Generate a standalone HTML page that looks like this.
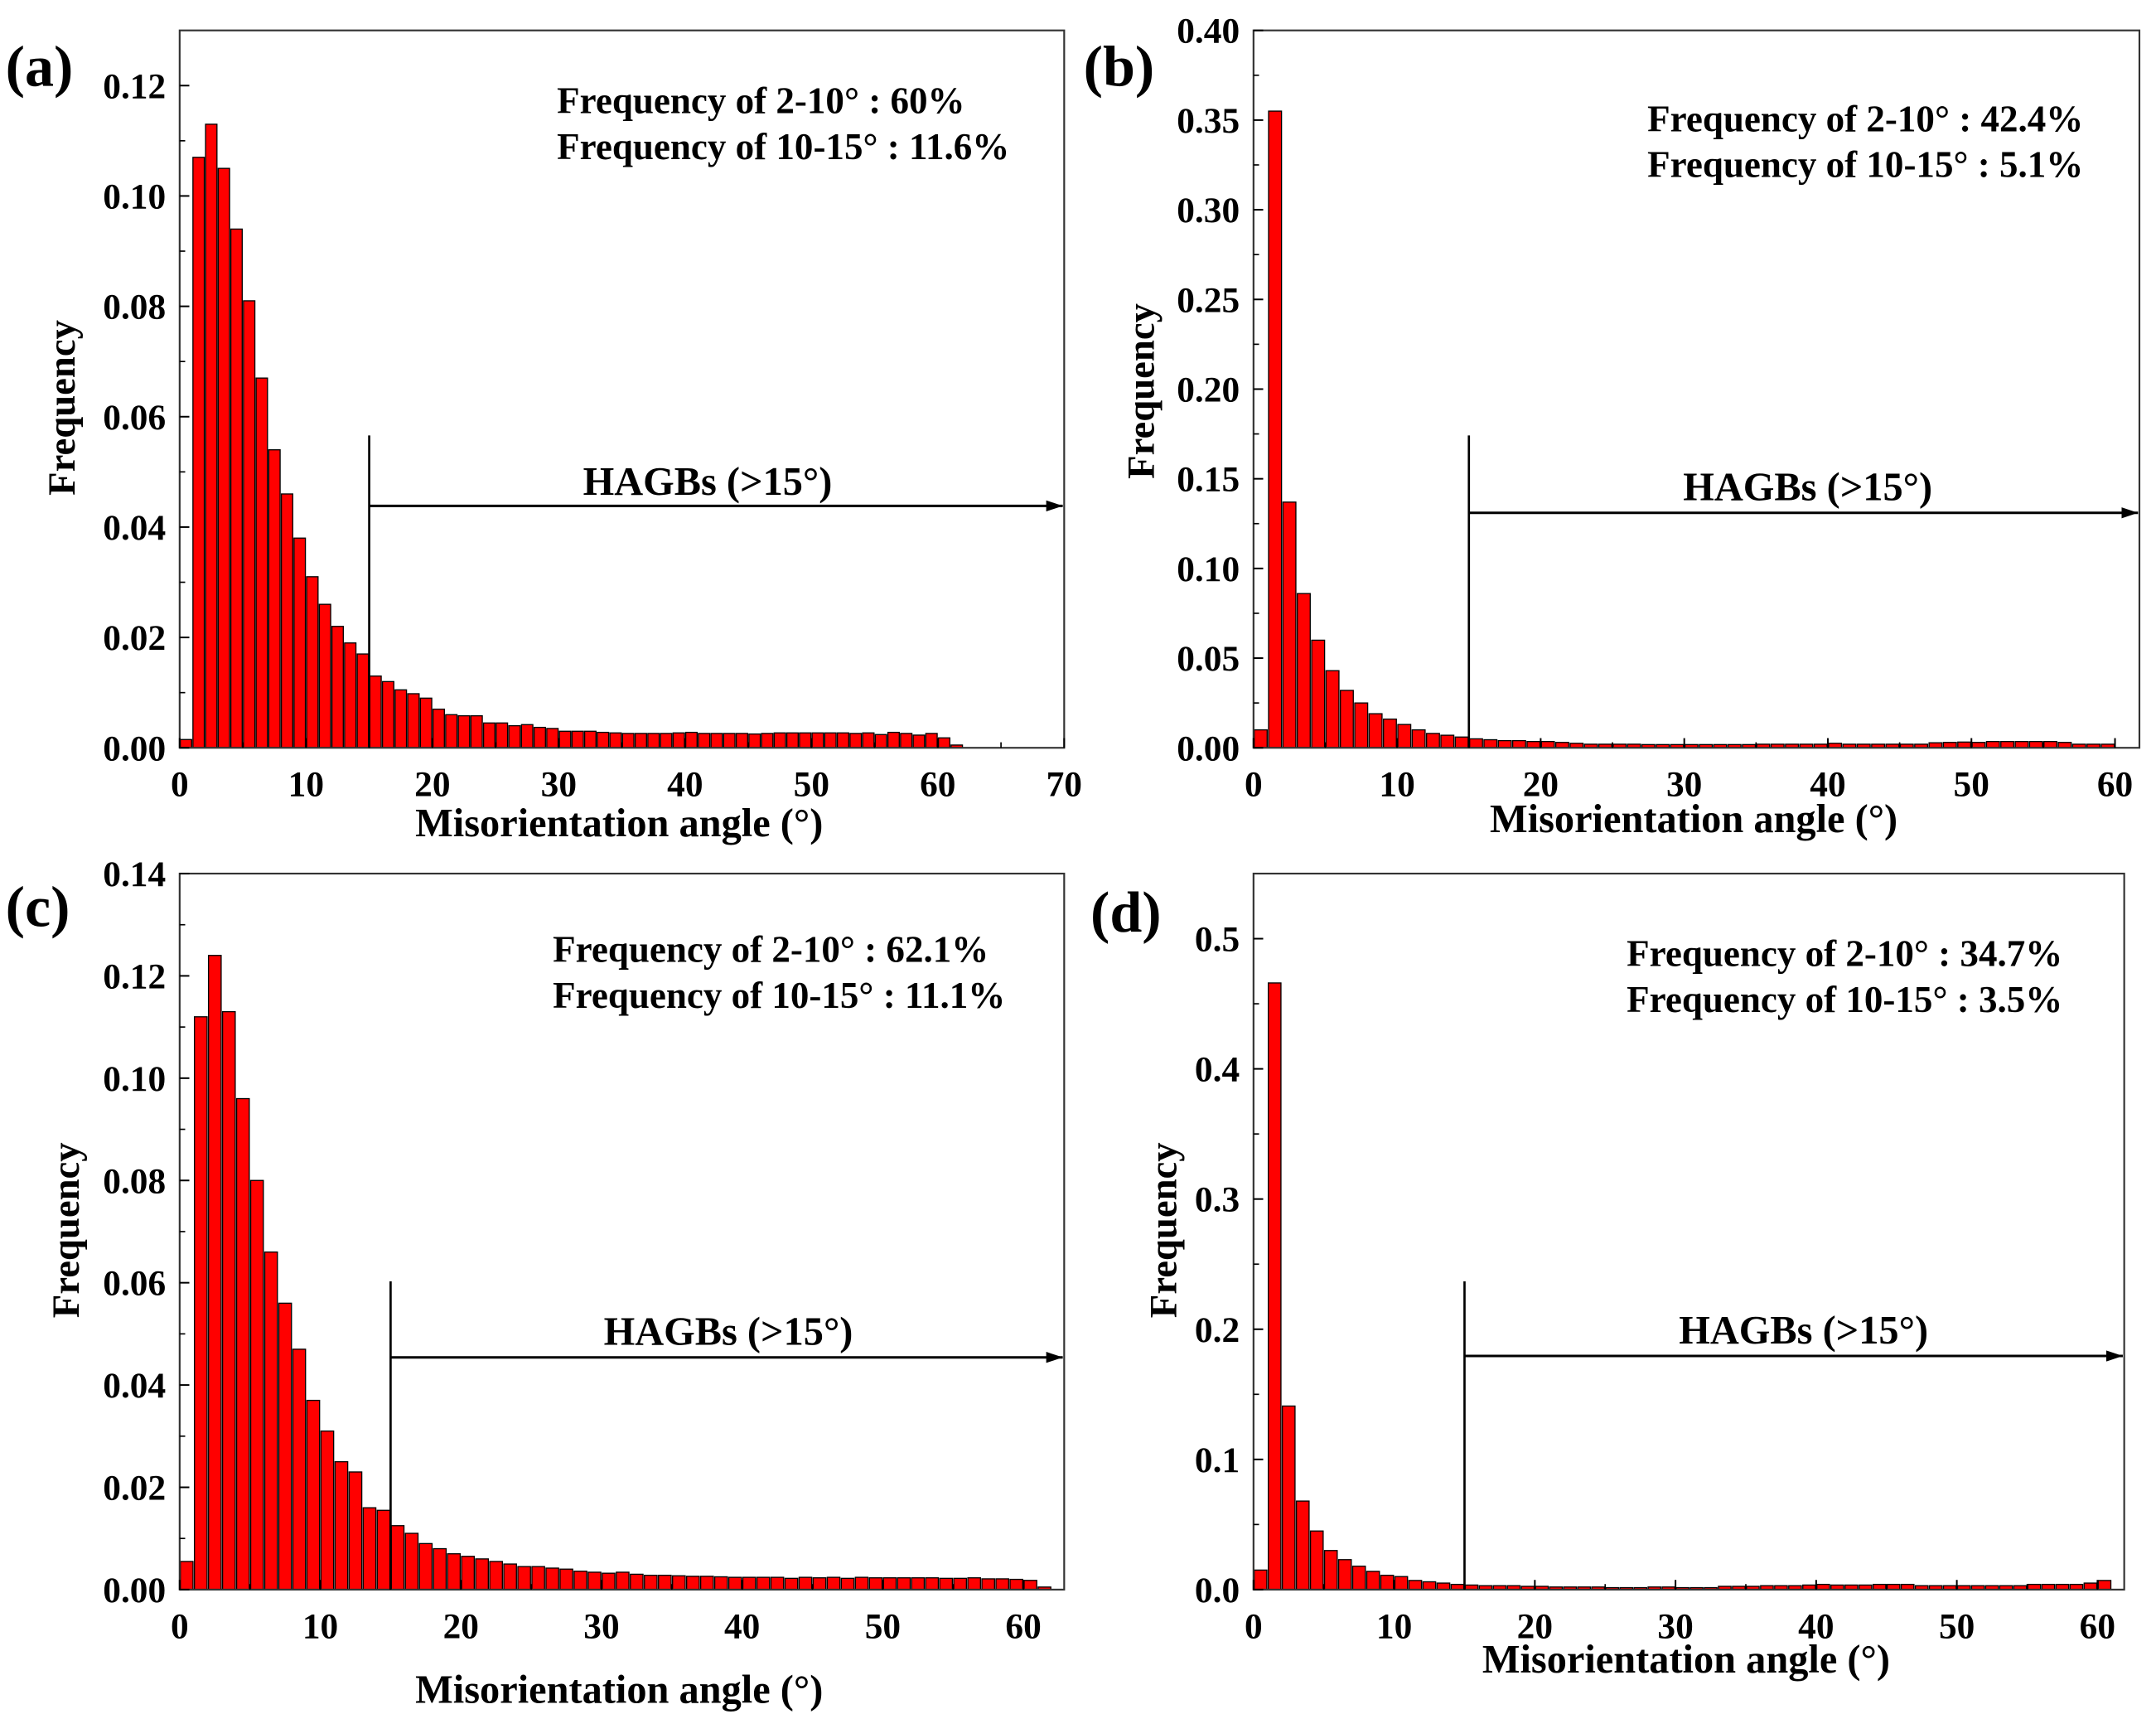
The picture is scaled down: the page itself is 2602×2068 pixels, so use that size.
<!DOCTYPE html>
<html><head><meta charset="utf-8">
<style>
html,body{margin:0;padding:0;background:#fff;}
svg{display:block;}
text{font-family:"Liberation Serif",serif;font-weight:bold;fill:#000;}
</style></head>
<body>
<svg id="fig" width="2602" height="2068" viewBox="0 0 1560 1240" preserveAspectRatio="none" xmlns="http://www.w3.org/2000/svg"></svg>
<script>
// ---- data (bin i covers i..i+1 degrees) ----
const freqA = [0.0015,0.107,0.113,0.105,0.094,0.081,0.067,0.054,0.046,0.038,0.031,0.026,0.022,0.019,0.017,0.013,0.012,0.0105,0.0098,0.009,0.007,0.006,0.0058,0.0058,0.0045,0.0045,0.004,0.0042,0.0037,0.0035,0.003,0.003,0.003,0.0028,0.0027,0.0026,0.0026,0.0026,0.0026,0.0027,0.0028,0.0026,0.0026,0.0026,0.0026,0.0025,0.0026,0.0027,0.0027,0.0027,0.0027,0.0027,0.0027,0.0026,0.0027,0.0024,0.0028,0.0026,0.0023,0.0026,0.0018,0.0005];
const freqB = [0.010,0.355,0.137,0.086,0.060,0.043,0.032,0.025,0.019,0.016,0.013,0.010,0.008,0.007,0.006,0.005,0.0045,0.004,0.004,0.0035,0.0035,0.003,0.0025,0.002,0.002,0.002,0.002,0.0018,0.0018,0.0018,0.0018,0.0018,0.0018,0.0018,0.0018,0.002,0.002,0.002,0.002,0.002,0.0025,0.002,0.002,0.002,0.002,0.002,0.002,0.0028,0.003,0.0032,0.003,0.0035,0.0035,0.0035,0.0035,0.0035,0.003,0.002,0.002,0.002];
const freqC = [0.0055,0.112,0.124,0.113,0.096,0.080,0.066,0.056,0.047,0.037,0.031,0.025,0.023,0.016,0.0155,0.0125,0.011,0.009,0.008,0.007,0.0065,0.006,0.0055,0.005,0.0045,0.0045,0.0042,0.004,0.0036,0.0034,0.0032,0.0034,0.003,0.0028,0.0028,0.0027,0.0026,0.0026,0.0025,0.0024,0.0024,0.0024,0.0024,0.0022,0.0024,0.0023,0.0024,0.0022,0.0024,0.0023,0.0023,0.0023,0.0023,0.0023,0.0022,0.0022,0.0023,0.0021,0.0021,0.002,0.0018,0.0005];
const freqD = [0.015,0.466,0.141,0.068,0.045,0.030,0.023,0.018,0.014,0.011,0.010,0.007,0.006,0.005,0.004,0.0035,0.003,0.003,0.003,0.0025,0.0025,0.002,0.002,0.002,0.002,0.0015,0.0015,0.0015,0.002,0.002,0.0015,0.0015,0.0015,0.0025,0.0025,0.0025,0.003,0.003,0.003,0.0035,0.004,0.0035,0.0035,0.0035,0.004,0.004,0.004,0.003,0.003,0.003,0.003,0.003,0.003,0.003,0.003,0.004,0.004,0.004,0.004,0.005,0.007];
const yTicksA = [0,0.02,0.04,0.06,0.08,0.10,0.12];
const yTicksB = [0,0.05,0.10,0.15,0.20,0.25,0.30,0.35,0.40];
const yTicksC = [0,0.02,0.04,0.06,0.08,0.10,0.12,0.14];
const yTicksD = [0,0.1,0.2,0.3,0.4,0.5];
const xTicksA = [0,10,20,30,40,50,60,70];
const xTicks60 = [0,10,20,30,40,50,60];
const notesA = ["Frequency of 2-10° :  60%","Frequency of 10-15° : 11.6%"];
const notesB = ["Frequency of 2-10° :  42.4%","Frequency of 10-15° : 5.1%"];
const notesC = ["Frequency of 2-10° :  62.1%","Frequency of 10-15° : 11.1%"];
const notesD = ["Frequency of 2-10° :  34.7%","Frequency of 10-15° : 3.5%"];

const NS = "http://www.w3.org/2000/svg";
const svg = document.getElementById('fig');
function mk(tag, attrs, parent){
  const e = document.createElementNS(NS, tag);
  for (const k in attrs) e.setAttribute(k, attrs[k]);
  (parent||svg).appendChild(e);
  return e;
}
function txt(str, x, y, size, anchor, parent){
  const t = mk('text', {x:x, y:y, 'font-size':size, 'text-anchor':anchor||'start'}, parent);
  t.textContent = str;
  return t;
}

const panels = [
  {id:'a', data:freqA, yt:yTicksA, ymax:0.13, xt:xTicksA, x0:130, x1:770, xmax:70, top:22, bot:541, dec:2,
   letter:[4,62], notes:notesA, nx:403, ny:82, vTop:315, arrowY:366, hagX:512, hagY:358, xtitleY:605, ytitleX:54, ytitleY:295},
  {id:'b', data:freqB, yt:yTicksB, ymax:0.40, xt:xTicks60, x0:907, x1:1548, xmax:61.7, top:22, bot:541, dec:2,
   letter:[784,62], notes:notesB, nx:1192, ny:95, vTop:315, arrowY:371, hagX:1308, hagY:362, xtitleY:602, ytitleX:835, ytitleY:283},
  {id:'c', data:freqC, yt:yTicksC, ymax:0.14, xt:xTicks60, x0:130, x1:770, xmax:62.9, top:632, bot:1150, dec:2,
   letter:[4,670], notes:notesC, nx:400, ny:696, vTop:927, arrowY:982, hagX:527, hagY:973, xtitleY:1232, ytitleX:57, ytitleY:890},
  {id:'d', data:freqD, yt:yTicksD, ymax:0.55, xt:xTicks60, x0:907, x1:1537, xmax:61.9, top:632, bot:1150, dec:1,
   letter:[789,674], notes:notesD, nx:1177, ny:699, vTop:927, arrowY:981, hagX:1305, hagY:972, xtitleY:1210, ytitleX:851, ytitleY:890}
];

mk('defs',{}).innerHTML = '<marker id="arr" markerWidth="12" markerHeight="8" refX="12" refY="4" orient="auto" markerUnits="userSpaceOnUse"><path d="M0,0 L12,4 L0,8 z" fill="#000"/></marker>';

panels.forEach(p => {
  const g = mk('g', {});
  
  
  const sx = v => p.x0 + (v / p.xmax) * (p.x1 - p.x0);
  const sy = v => p.bot - (v / p.ymax) * (p.bot - p.top);

  const bg = mk('g', {}, g);
  
  
  p.data.forEach((v, i) => {
    const xa = sx(i + 0.05), xb = sx(i + 0.95);
    const r = mk('rect', {x:xa, y:sy(v), width:xb - xa, height:Math.max(0.5, p.bot - sy(v)), fill:'#ff0000', stroke:'#000', 'stroke-width':0.8}, bg);
    
    
  });

  const fr = mk('rect', {x:p.x0, y:p.top, width:p.x1 - p.x0, height:p.bot - p.top, fill:'none', stroke:'#333', 'stroke-width':1.3}, g);
  
  

  p.yt.forEach((v, i) => {
    const y = sy(v);
    mk('line', {x1:p.x0, x2:p.x0 + 7, y1:y, y2:y, stroke:'#000', 'stroke-width':1.2}, g);
    const t = txt(v.toFixed(p.dec), p.x0 - 10, y + 9, 26, 'end', g);
    
    
    if (i < p.yt.length - 1) {
      const m = sy((v + p.yt[i + 1]) / 2);
      mk('line', {x1:p.x0, x2:p.x0 + 4, y1:m, y2:m, stroke:'#000', 'stroke-width':1}, g);
    }
  });
  p.xt.forEach((v, i) => {
    const x = sx(v);
    mk('line', {x1:x, x2:x, y1:p.bot, y2:p.bot - 7, stroke:'#000', 'stroke-width':1.2}, g);
    const t = txt(String(v), x, p.bot + 35, 26, 'middle', g);
    
    
    if (i < p.xt.length - 1) {
      const m = sx(v + 5);
      mk('line', {x1:m, x2:m, y1:p.bot, y2:p.bot - 4, stroke:'#000', 'stroke-width':1}, g);
    }
  });

  const xt = txt('Misorientation angle (°)', (p.x0 + p.x1) / 2 - 2, p.xtitleY, 29, 'middle', g);
  
  
  const yt = txt('Frequency', 0, 0, 28, 'middle', g);
  yt.setAttribute('transform', 'translate(' + p.ytitleX + ',' + p.ytitleY + ') rotate(-90)');
  
  
  const lt = txt('(' + p.id + ')', p.letter[0], p.letter[1], 42, 'start', g);
  
  

  p.notes.forEach((s, i) => {
    const t = txt(s, p.nx, p.ny + i * 33, 27, 'start', g);
    
    
  });

  const x15 = sx(15);
  const vl = mk('line', {x1:x15, x2:x15, y1:p.vTop, y2:p.bot, stroke:'#000', 'stroke-width':1.6}, g);
  
  
  const ar = mk('line', {x1:x15, x2:p.x1 - 1, y1:p.arrowY, y2:p.arrowY, stroke:'#000', 'stroke-width':1.8, 'marker-end':'url(#arr)'}, g);
  
  
  const ht = txt('HAGBs (>15°)', p.hagX, p.hagY, 29, 'middle', g);
  
  
});
</script>
</body></html>
